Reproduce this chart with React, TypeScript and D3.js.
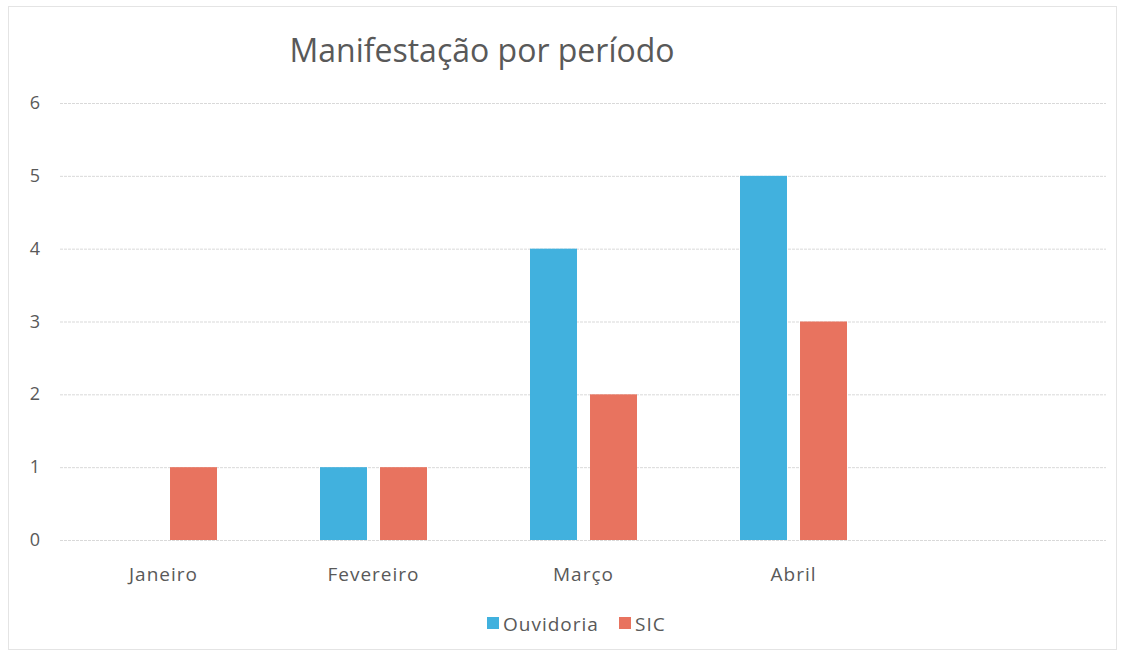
import React, { useEffect, useRef } from "react";
import * as d3 from "d3";

// chart data
const categories = ["Janeiro", "Fevereiro", "Março", "Abril", ""];
const seriesNames = ["Ouvidoria", "SIC"];
const ouvidoria = [0, 1, 4, 5, null];
const sic = [1, 1, 2, 3, null];
const yTicks = [0, 1, 2, 3, 4, 5, 6];
const colors = ["#41b1de", "#e8735f"];

const W = 1125, H = 657;

export default function App() {
  const ref = useRef<SVGSVGElement>(null);

  useEffect(() => {
    const svg = d3.select(ref.current);
    svg.selectAll("*").remove();

    const font = "'Open Sans', sans-serif";
    const textColor = "#595959";

    // chart frame
    svg.append("rect")
      .attr("x", 8.5).attr("y", 6.5)
      .attr("width", 1108).attr("height", 643)
      .attr("fill", "white").attr("stroke", "#e4e4e4");

    const x = d3.scaleBand().domain(categories).range([58.5, 1108.5]);
    const y = d3.scaleLinear().domain([0, 6]).range([540, 103]);
    const inner = d3.scaleBand().domain(seriesNames)
      .range([51.5, 210 - 51.5]).paddingInner(0.217);

    // gridlines
    svg.append("g").selectAll("line").data(yTicks).join("line")
      .attr("x1", 60).attr("x2", 1106)
      .attr("y1", d => y(d) + 0.5).attr("y2", d => y(d) + 0.5)
      .attr("stroke", "#d9d9d9").attr("stroke-width", 1)
      .attr("stroke-dasharray", "3,1");

    // y labels
    svg.append("g").selectAll("text").data(yTicks).join("text")
      .attr("x", 35).attr("y", d => y(d) + 6)
      .attr("text-anchor", "middle")
      .attr("font-family", font).attr("font-size", 18)
      .attr("fill", textColor)
      .text(d => d);

    // bars
    const seriesData = [ouvidoria, sic];
    seriesData.forEach((vals, si) => {
      svg.append("g").selectAll("rect")
        .data(vals.map((v, i) => ({ v, c: categories[i] })).filter(d => d.v != null && d.v > 0))
        .join("rect")
        .attr("x", d => (x(d.c) as number) + (inner(seriesNames[si]) as number))
        .attr("y", d => y(d.v as number))
        .attr("width", inner.bandwidth())
        .attr("height", d => y(0) - y(d.v as number))
        .attr("fill", colors[si]);
    });

    // category labels
    svg.append("g").selectAll("text").data(categories.filter(c => c !== "")).join("text")
      .attr("x", d => (x(d) as number) + x.bandwidth() / 2)
      .attr("y", 581)
      .attr("text-anchor", "middle")
      .attr("font-family", font).attr("font-size", 19)
      .attr("letter-spacing", 1)
      .attr("fill", textColor)
      .text(d => d);

    // title
    svg.append("text")
      .attr("x", 482).attr("y", 62)
      .attr("text-anchor", "middle")
      .attr("font-family", "'Open Sans', sans-serif").attr("font-size", 32)
      .attr("fill", textColor)
      .text("Manifestação por período");

    // legend
    const legendX = [487, 619];
    seriesNames.forEach((name, i) => {
      svg.append("rect")
        .attr("x", legendX[i]).attr("y", 617)
        .attr("width", 12).attr("height", 12)
        .attr("fill", colors[i]);
      svg.append("text")
        .attr("x", legendX[i] + 16).attr("y", 631)
        .attr("font-family", font).attr("font-size", 19)
        .attr("letter-spacing", 1)
        .attr("fill", textColor)
        .text(name);
    });
  }, []);

  return (
    <svg ref={ref} width={W} height={H}
      style={{ position: "absolute", left: 0, top: 0, background: "white" }} />
  );
}
